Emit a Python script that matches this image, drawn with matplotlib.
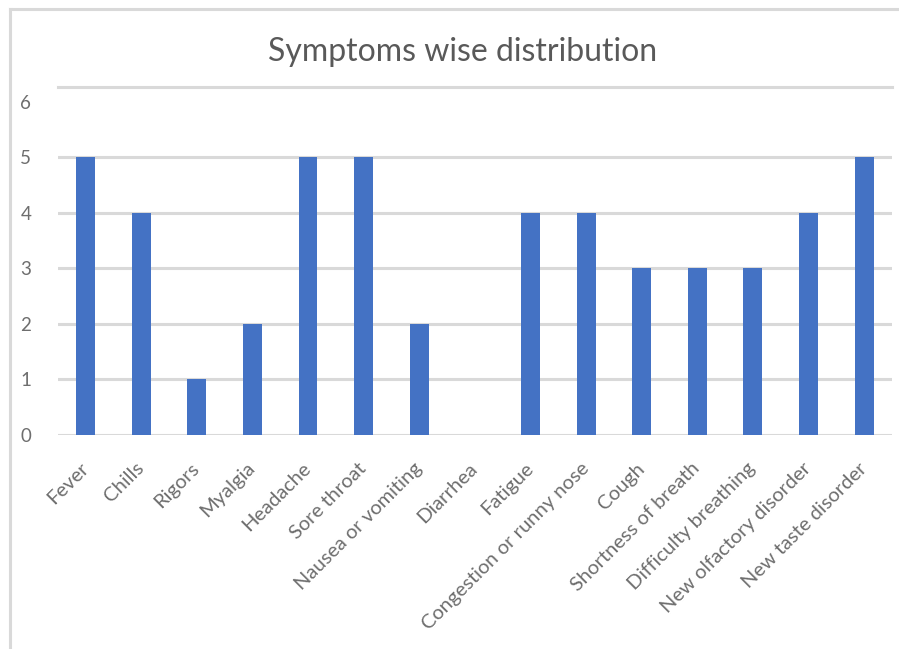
import matplotlib.pyplot as plt
from matplotlib.lines import Line2D

symptoms = [
    "Fever", "Chills", "Rigors", "Myalgia", "Headache", "Sore throat",
    "Nausea or vomiting", "Diarrhea", "Fatigue", "Congestion or runny nose",
    "Cough", "Shortness of breath", "Difficulty breathing",
    "New olfactory disorder", "New taste disorder",
]
counts = [5, 4, 1, 2, 5, 5, 2, 0, 4, 4, 3, 3, 3, 4, 5]
y_ticks = [0, 1, 2, 3, 4, 5, 6]

BAR_COLOR = "#4472C4"
GRID_COLOR = "#D9D9D9"
TEXT_COLOR = "#6E6E6E"

plt.rcParams["font.family"] = ["Lato", "DejaVu Sans"]

fig = plt.figure(figsize=(8.99, 6.49), dpi=100)
ax = fig.add_axes([0.0642, 0.3297, 0.928, 0.536])

x = list(range(len(symptoms)))
ax.bar(x, counts, width=0.34, color=BAR_COLOR, zorder=3)

ax.set_xlim(-0.5, len(symptoms) - 0.5)
ax.set_ylim(0, 6.26)
ax.set_yticks(y_ticks)
ax.set_yticklabels([str(v) for v in y_ticks], color=TEXT_COLOR, fontsize=13.5)
ax.set_xticks(x)
ax.set_xticklabels(symptoms, rotation=45, ha="right", va="center",
                   rotation_mode="anchor", color=TEXT_COLOR, fontsize=14.5)
ax.tick_params(axis="both", length=0)
ax.tick_params(axis="x", pad=22)
ax.tick_params(axis="y", pad=19)

ax.grid(axis="y", color=GRID_COLOR, linewidth=2.2, zorder=0)
ax.yaxis.get_gridlines()[-1].set_visible(False)
ax.set_axisbelow(True)
for side in ("left", "right", "bottom"):
    ax.spines[side].set_visible(False)
ax.spines["top"].set_color(GRID_COLOR)
ax.spines["top"].set_linewidth(2.2)

fig.text(0.515, 0.92, "Symptoms wise distribution", ha="center", va="center",
         fontsize=23, color="#595959")

# chart-area border (left and top edges only are visible in the crop)
fig.add_artist(Line2D([0.011, 0.011], [0.0, 0.986], transform=fig.transFigure,
                      color=GRID_COLOR, linewidth=2.2))
fig.add_artist(Line2D([0.011, 1.0], [0.986, 0.986], transform=fig.transFigure,
                      color=GRID_COLOR, linewidth=2.2))

fig.savefig("out.png", dpi=100)
